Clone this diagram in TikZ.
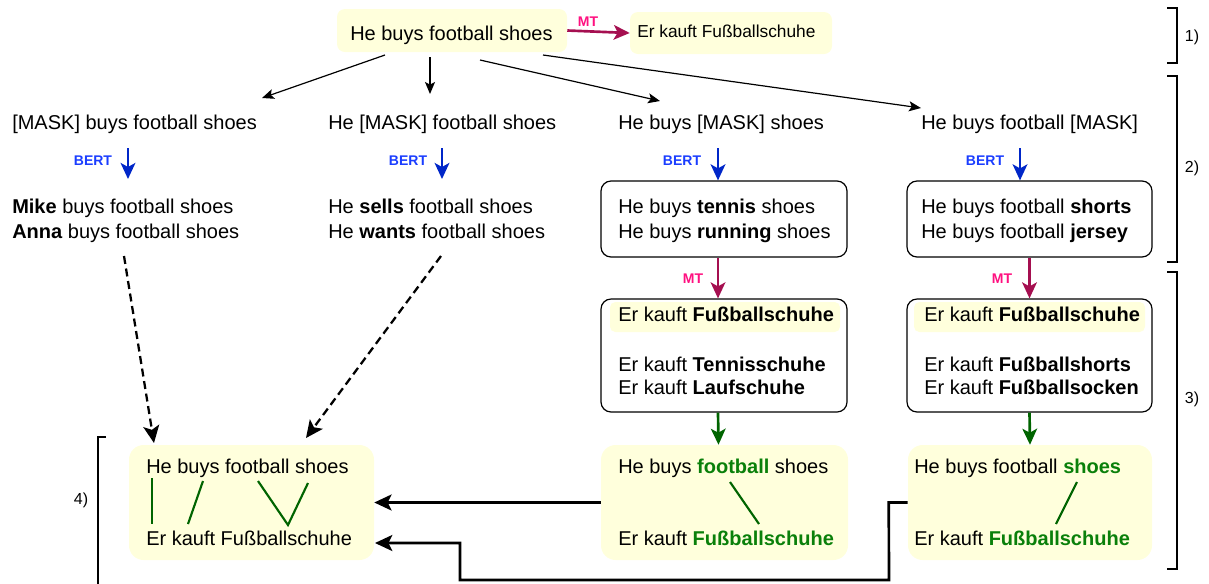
\documentclass[tikz,border=0pt]{standalone}
\usepackage{fontspec}
\setmainfont{Liberation Sans}
\usetikzlibrary{arrows.meta,calc}
\definecolor{yel}{HTML}{FFFFDC}
\definecolor{mtarrow}{HTML}{A50F50}
\definecolor{mtlab}{HTML}{FF1080}
\definecolor{bertarrow}{HTML}{0026C8}
\definecolor{bertlab}{HTML}{1A3DFF}
\definecolor{gline}{HTML}{006400}
\definecolor{gtext}{HTML}{0A800A}
\newcommand{\gw}[1]{\textcolor{gtext}{\textbf{#1}}}
\begin{document}
\begin{tikzpicture}[x=0.75pt,y=-0.75pt,
  sz/.style 2 args={minimum width=#1*0.75pt, minimum height=#2*0.75pt, inner sep=0pt},
  ybox/.style={fill=yel, draw=none, rounded corners=6pt},
  obox/.style={draw=black, line width=0.9pt, rounded corners=7.5pt, fill=white},
  txt/.style={anchor=base west, inner sep=0pt, font=\fontsize{15}{18}\selectfont},
  stxt/.style={anchor=base west, inner sep=0pt, font=\fontsize{13}{16}\selectfont},
  lab/.style={inner sep=0pt, font=\bfseries\fontsize{10.5}{12}\selectfont},
  blab/.style={inner sep=0pt, font=\fontsize{12}{14}\selectfont},
  thinarr/.style={draw=black, line width=0.9pt, -{Stealth[length=9pt,width=7.5pt,inset=2pt]}},
  mtarr/.style={draw=mtarrow, line width=2pt, -{Stealth[length=12pt,width=11pt,inset=3pt]}},
  bertarr/.style={draw=bertarrow, line width=2pt, -{Stealth[length=12pt,width=11pt,inset=3pt]}},
  garr/.style={draw=gline, line width=2pt, -{Stealth[length=12pt,width=11pt,inset=3pt]}},
  dasharr/.style={draw=black, line width=1.7pt, dash pattern=on 6pt off 3.5pt, -{Stealth[length=13pt,width=12pt,inset=3pt]}},
  barr/.style={draw=black, line width=2pt, -{Stealth[length=13pt,width=12pt,inset=3pt]}},
  align/.style={draw=gline, line width=1.6pt},
  brk/.style={draw=black, line width=0.8pt}
]
\useasboundingbox (0,0) rectangle (1209,583);

% ---------- row 1 ----------
\node[ybox, sz={230}{43}] (top) at (452,30.5) {};
\node[txt] (toptxt) at (350,40) {He buys football shoes};
\node[ybox, sz={202}{42}] (topmt) at (731,33) {};
\node[stxt] (topmttxt) at (637,37) {Er kauft Fußballschuhe};
\draw[mtarr] (top.east) -- (topmt.west);
\node[lab, text=mtlab] (mtl0) at (588,22) {MT};

% ---------- row 2 ----------
\node[txt] (m1) at (12,129) {[MASK] buys football shoes};
\node[txt] (m2) at (328,129) {He [MASK] football shoes};
\node[txt] (m3) at (618,129) {He buys [MASK] shoes};
\node[txt] (m4) at (921,129) {He buys football [MASK]};

\coordinate (a1s) at (385,55);  \coordinate (a1e) at (262,98);
\coordinate (a2s) at (430,57);  \coordinate (a2e) at (430,94);
\coordinate (a3s) at (480,60);  \coordinate (a3e) at (660,101);
\coordinate (a4s) at (543,55);  \coordinate (a4e) at (921,108);
\draw[thinarr] (a1s) -- (a1e);
\draw[thinarr] (a2s) -- (a2e);
\draw[thinarr] (a3s) -- (a3e);
\draw[thinarr] (a4s) -- (a4e);

% BERT arrows
\coordinate (b1s) at (128,148); \coordinate (b1e) at (128,179);
\coordinate (b2s) at (442,148); \coordinate (b2e) at (442,179);
\draw[bertarr] (b1s) -- (b1e);
\draw[bertarr] (b2s) -- (b2e);
\node[lab, text=bertlab] (bl1) at (93,161) {BERT};
\node[lab, text=bertlab] (bl2) at (408,161) {BERT};
\node[lab, text=bertlab] (bl3) at (682,161) {BERT};
\node[lab, text=bertlab] (bl4) at (985,161) {BERT};

% ---------- row 3 ----------
\node[txt] (c1a) at (12,213) {\textbf{Mike} buys football shoes};
\node[txt] (c1b) at (12,238) {\textbf{Anna} buys football shoes};
\node[txt] (c2a) at (328,213) {He \textbf{sells} football shoes};
\node[txt] (c2b) at (328,238) {He \textbf{wants} football shoes};

\node[obox, sz={246}{76}] (c3a) at (724,219) {};
\node[txt] (c3a1) at (618,213) {He buys \textbf{tennis} shoes};
\node[txt] (c3a2) at (618,238) {He buys \textbf{running} shoes};
\node[obox, sz={245}{76}] (c4a) at (1029.5,219) {};
\node[txt] (c4a1) at (921,213) {He buys football \textbf{shorts}};
\node[txt] (c4a2) at (921,238) {He buys football \textbf{jersey}};

\coordinate (b3s) at (718,148);
\coordinate (b4s) at (1020,148);
\draw[bertarr] (b3s) -- (b3s |- c3a.north);
\draw[bertarr] (b4s) -- (b4s |- c4a.north);

% ---------- row 4 ----------
\node[obox, sz={246}{113}] (c3b) at (724,355.5) {};
\node[ybox, sz={230}{30}, rounded corners=4pt] (c3h) at (725,317) {};
\node[txt] (c3b1) at (618,321) {Er kauft \textbf{Fußballschuhe}};
\node[txt] (c3b2) at (618,371) {Er kauft \textbf{Tennisschuhe}};
\node[txt] (c3b3) at (618,394) {Er kauft \textbf{Laufschuhe}};
\node[obox, sz={245}{113}] (c4b) at (1029.5,355.5) {};
\node[ybox, sz={231}{30}, rounded corners=4pt] (c4h) at (1029.5,317) {};
\node[txt] (c4b1) at (924,321) {Er kauft \textbf{Fußballschuhe}};
\node[txt] (c4b2) at (924,371) {Er kauft \textbf{Fußballshorts}};
\node[txt] (c4b3) at (924,394) {Er kauft \textbf{Fußballsocken}};

\draw[mtarr] ($(c3a.south)+(-6,0)$) -- ($(c3b.north)+(-6,0)$);
\draw[mtarr] (c4a.south) -- (c4b.north);
\node[lab, text=mtlab] (mtl3) at (693,279) {MT};
\node[lab, text=mtlab] (mtl4) at (1002,279) {MT};

% ---------- row 5 ----------
\node[ybox, sz={245}{115}, rounded corners=11pt] (bl) at (251.5,502.5) {};
\node[txt] (bl1t) at (146,473) {He buys football shoes};
\node[txt] (bl2t) at (146,545) {Er kauft Fußballschuhe};
\draw[align] (152,478) -- (152,524);
\draw[align] (203,481) -- (188,524);
\draw[align] (258,481) -- (288,525) -- (308,483);

\node[ybox, sz={247}{115}, rounded corners=11pt] (c3c) at (724.5,502.5) {};
\node[txt] (c3c1) at (618,473) {He buys \gw{football} shoes};
\node[txt] (c3c2) at (618,545) {Er kauft \gw{Fußballschuhe}};
\draw[align] (730,482) -- (759,524);

\node[ybox, sz={244}{115}, rounded corners=11pt] (c4c) at (1030,502.5) {};
\node[txt] (c4c1) at (914,473) {He buys football \gw{shoes}};
\node[txt] (c4c2) at (914,545) {Er kauft \gw{Fußballschuhe}};
\draw[align] (1077,482) -- (1056,524);

\draw[garr] ($(c3b.south)+(-6,0)$) -- ($(c3c.north)+(-6,0)$);
\draw[garr] (c4b.south) -- (c4c.north);

% dashed arrows
\coordinate (d1s) at (124,256); \coordinate (d1e) at (154,443);
\coordinate (d2s) at (441,256); \coordinate (d2e) at (306,438);
\draw[dasharr] (d1s) -- (d1e);
\draw[dasharr] (d2s) -- (d2e);

% black arrows into the aligned box
\coordinate (e2) at (375,543);
\draw[barr] (c3c.west) -- (bl.east);
\draw[barr] (c4c.west) -- ++(-19,0) -- (889,580) -- (460,580) -- (460,543) -- (e2);

% ---------- brackets ----------
\draw[brk] (1167,8) -- (1177,8) -- (1177,63) -- (1167,63);
\node[blab] (br1) at (1192,37) {1)};
\draw[brk] (1167,76) -- (1177,76) -- (1177,262) -- (1167,262);
\node[blab] (br2) at (1192,168) {2)};
\draw[brk] (1167,272) -- (1177,272) -- (1177,569) -- (1167,569);
\node[blab] (br3) at (1192,399) {3)};
\draw[brk] (106,437) -- (98,437) -- (98,590);
\node[blab] (br4) at (81,500) {4)};
\end{tikzpicture}
\end{document}
